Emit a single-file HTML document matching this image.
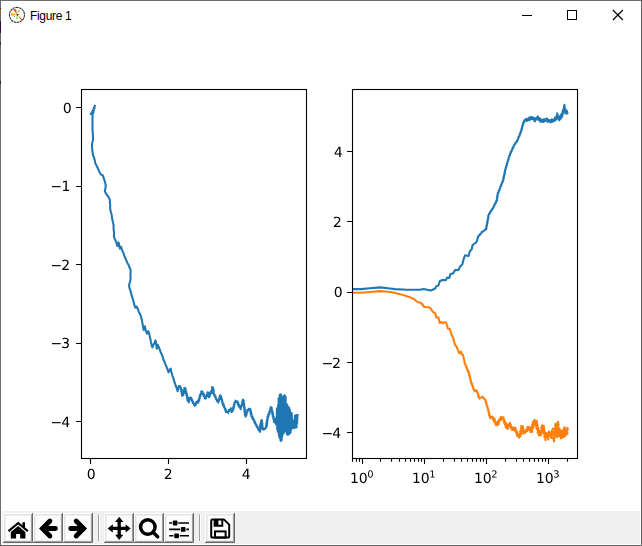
<!DOCTYPE html>
<html><head><meta charset="utf-8"><title>Figure 1</title>
<style>
html,body{margin:0;padding:0;background:#fff;overflow:hidden}
body{width:642px;height:546px;position:relative;font-family:"Liberation Sans",sans-serif}
svg{position:absolute;left:0;top:0;display:block}
.title{position:absolute;left:30px;top:8px;font-size:12px;line-height:16px;color:#000;font-family:"Liberation Sans",sans-serif;letter-spacing:-0.32px}
</style></head><body>
<svg width="642" height="546" viewBox="0 0 642 546">
<rect x="0" y="0" width="642" height="546" fill="#fff"/>
<rect x="1" y="511" width="640" height="34" fill="#f0f0f0"/>
<rect x="1" y="31" width="640" height="480" fill="#fff"/>
<clipPath id="c1"><rect x="81.5" y="89.5" width="225" height="369"/></clipPath>
<clipPath id="c2"><rect x="352.5" y="89.5" width="225" height="369"/></clipPath>
<polyline clip-path="url(#c1)" points="94.9,105.8 93.5,109.0 94.6,108.2 92.2,111.6 93.8,110.8 90.6,113.9 93.4,112.6 92.5,114.6 92.5,129.8 92.5,129.8 92.7,132.4 92.9,135.0 93.0,137.5 93.0,139.8 92.3,142.5 92.0,145.3 92.2,150.0 93.0,154.8 94.0,157.8 94.8,160.4 95.4,163.5 96.5,165.6 97.7,168.0 98.6,170.1 99.8,172.7 101.1,174.7 102.6,175.0 103.8,178.4 104.6,180.7 105.3,183.2 105.8,185.9 105.4,188.2 104.8,190.9 105.8,193.3 107.2,195.1 108.8,197.6 109.8,199.6 109.9,200.0 109.9,202.7 110.2,205.1 110.1,207.7 110.4,210.0 111.0,212.7 111.7,214.9 111.9,217.3 112.4,219.7 113.0,222.5 113.6,224.9 113.5,227.5 113.7,229.8 114.1,232.4 113.9,234.9 114.1,237.4 115.3,240.1 116.5,243.0 117.4,246.1 118.6,242.4 119.4,245.7 119.9,248.6 121.1,246.9 121.9,249.6 123.0,252.1 123.9,254.4 124.9,257.4 126.1,259.8 127.1,262.4 128.6,265.0 129.4,267.2 130.6,269.8 130.6,272.8 130.4,275.7 130.6,278.5 130.2,281.2 129.4,283.7 129.1,286.0 129.7,288.7 130.8,291.8 131.4,294.6 132.3,297.2 133.1,299.7 133.7,302.3 134.3,304.9 135.3,307.7 136.8,306.7 138.0,309.5 138.8,311.7 140.3,314.5 141.1,317.1 141.9,320.0 142.3,322.4 142.8,325.2 143.2,327.5 143.7,330.0 144.9,326.2 145.3,328.9 146.0,331.2 146.9,333.7 148.4,331.2 149.2,333.7 149.8,336.8 150.5,339.4 150.9,342.0 151.6,344.9 152.4,347.4 153.3,345.0 154.6,342.9 155.4,340.4 156.1,343.1 156.4,346.0 156.9,348.7 157.9,344.9 158.9,347.3 159.8,349.7 160.8,352.6 162.0,354.9 162.8,357.3 163.5,359.7 164.9,362.5 165.6,365.0 166.8,367.4 167.7,369.9 168.6,372.3 170.6,368.6 171.2,371.2 171.8,373.5 172.5,376.0 173.5,378.6 174.1,381.2 175.0,383.5 177.7,391.2 177.1,389.9 178.3,389.4 177.9,388.2 178.8,387.6 178.5,386.4 179.0,385.9 180.2,386.3 179.9,387.6 181.1,388.0 180.9,389.2 181.9,390.0 181.1,391.1 182.1,391.9 181.5,393.1 182.6,393.9 182.0,395.0 182.1,395.8 183.2,395.1 182.7,394.0 183.8,393.3 183.2,392.2 184.4,391.5 183.8,390.4 184.7,389.7 184.3,388.6 184.5,387.9 185.6,388.6 185.2,389.7 185.9,390.4 185.4,391.5 186.4,392.2 185.8,393.3 186.9,394.0 186.4,395.1 187.3,395.8 186.8,396.9 187.9,397.6 187.0,398.7 188.2,399.4 187.5,400.5 188.6,401.2 188.8,402.4 188.3,401.1 189.4,400.6 189.2,399.6 190.3,399.0 189.9,397.9 190.2,397.4 191.3,398.0 191.0,399.3 192.2,399.8 192.0,401.0 193.1,401.7 192.8,403.0 194.0,403.6 194.0,404.9 194.6,405.6 195.6,405.0 195.2,403.8 196.5,403.4 196.2,402.2 196.4,401.8 197.8,402.7 198.6,402.0 198.1,400.8 199.3,400.2 198.8,399.1 199.8,398.4 199.4,397.2 200.3,396.5 199.8,395.4 200.9,394.7 200.6,393.6 201.7,393.0 201.2,391.8 201.3,391.2 202.5,391.7 202.1,393.0 203.5,393.4 203.0,394.7 204.3,395.1 203.9,396.4 205.1,396.9 204.6,398.1 205.1,398.7 206.2,398.0 205.8,396.8 206.9,396.1 206.7,394.9 207.7,394.3 207.3,393.0 207.6,392.3 208.7,393.1 208.2,394.3 209.0,395.1 208.8,396.3 208.9,397.1 209.8,396.3 209.4,395.3 210.3,394.5 209.6,393.4 210.6,392.6 210.8,391.5 210.4,392.8 210.9,393.5 211.8,392.7 211.3,391.6 212.2,390.8 211.8,389.8 212.6,389.0 212.1,387.9 212.1,387.1 213.1,387.9 212.4,388.9 213.6,389.7 212.7,390.7 213.7,391.5 213.0,392.6 213.9,393.3 213.7,394.4 214.8,394.9 214.4,396.1 215.7,396.5 215.3,397.7 216.2,398.3 216.1,399.4 217.0,399.9 217.0,401.0 218.0,401.5 218.3,402.6 217.9,401.4 219.0,400.8 218.4,399.6 219.7,399.1 219.3,397.9 220.2,397.2 219.7,396.0 220.1,395.4 221.1,396.2 220.5,397.4 221.7,398.1 221.1,399.3 222.2,400.1 221.8,401.3 222.6,402.1 222.4,403.2 223.4,403.7 222.9,404.9 224.0,405.5 223.6,406.6 224.6,407.2 224.5,408.2 225.5,408.8 225.1,410.0 226.2,410.5 225.8,411.9 227.3,411.8 228.1,412.9 228.0,411.7 229.1,411.2 229.0,409.9 230.4,409.5 230.9,408.2 230.4,409.5 231.6,410.1 231.3,411.4 231.6,412.0 232.7,411.2 232.1,410.1 233.4,409.4 232.8,408.3 233.9,407.6 233.4,406.4 234.3,405.7 233.9,404.5 234.8,403.8 234.4,402.6 235.6,402.0 235.5,400.6 236.2,401.7 237.6,401.4 237.2,402.5 238.3,403.0 237.8,404.2 239.0,404.7 238.5,405.9 239.6,406.4 239.5,407.4 240.5,408.0 240.8,409.1 240.3,407.9 241.2,407.2 241.0,406.1 241.9,405.4 241.6,404.3 242.7,403.6 242.0,402.3 243.2,401.7 242.6,400.5 243.0,399.7 243.7,400.6 243.1,401.6 243.9,402.5 243.4,403.5 244.3,404.3 243.6,405.3 244.4,406.2 244.0,407.2 244.8,408.0 244.2,409.1 245.0,409.9 244.4,410.9 245.1,411.8 244.6,412.8 245.5,413.6 244.8,414.7 245.6,415.5 245.7,416.6 245.3,415.5 246.5,415.0 246.0,413.8 246.9,413.2 246.6,412.1 247.6,411.4 247.2,410.3 248.1,410.0 248.8,408.7 249.7,408.7 250.5,409.4 250.0,410.5 250.9,411.3 250.4,412.3 251.5,413.1 250.7,414.2 251.7,414.8 251.3,416.1 252.5,416.6 252.1,417.9 253.3,418.4 253.0,419.6 254.3,420.1 254.0,421.3 255.1,421.9 254.8,423.2 255.8,423.7 255.8,424.9 256.9,425.4 256.6,426.6 257.8,427.1 257.6,428.3 258.6,428.9 258.5,430.1 259.5,430.6 260.1,431.8 259.4,430.7 260.3,430.0 259.5,428.9 260.5,428.2 259.9,427.1 260.9,426.4 260.1,425.3 261.1,424.5 260.5,423.5 261.3,422.7 260.9,421.8 261.9,421.0 261.8,420.0 261.1,421.0 262.2,421.9 261.4,423.0 262.5,423.8 261.7,424.9 262.6,425.8 262.0,426.8 262.8,427.7 262.2,428.8 262.6,429.3 263.8,429.6 264.2,428.5 265.4,428.6 265.7,427.7 266.6,427.0 265.9,425.9 267.0,425.2 266.2,424.1 267.2,423.4 266.5,422.3 267.4,421.5 266.8,420.5 267.7,419.7 267.2,418.7 268.0,417.9 267.4,416.8 268.4,416.2 268.0,415.0 269.3,414.4 268.7,413.2 269.9,412.6 269.4,411.4 270.3,410.7 270.1,409.6 270.9,408.8 270.7,407.7 270.7,407.0 271.7,407.8 271.2,408.8 272.1,409.6 271.7,410.6 272.5,411.4 272.0,412.4 273.0,413.1 272.3,414.2 273.3,415.0 272.7,416.0 273.7,416.8 273.1,417.9 274.0,418.6 273.6,419.6 274.5,420.4 273.9,421.5 274.4,422.3 275.0,419.4 275.3,422.2 275.7,419.6 276.0,424.1 276.3,417.9 276.7,424.9 276.9,408.5 277.2,429.2 277.6,408.9 277.7,431.6 278.0,405.5 278.4,431.3 278.6,398.3 278.9,435.3 279.3,398.0 279.4,437.8 279.7,395.0 280.1,436.7 280.2,394.3 280.5,440.4 280.9,394.5 281.0,440.9 281.3,395.1 281.7,440.1 281.8,397.0 282.1,437.0 282.5,397.8 282.7,434.3 283.0,397.1 283.4,433.7 284.0,395.8 284.3,431.6 284.7,395.3 285.3,431.4 285.6,396.7 286.0,431.2 286.5,405.7 286.8,433.9 287.2,404.6 287.5,434.7 287.8,406.4 288.2,434.3 288.5,407.9 288.8,434.5 289.2,407.8 289.7,433.2 290.0,410.0 290.4,432.9 291.0,412.9 291.3,429.6 291.7,413.0 292.3,427.3 292.6,421.0 293.0,427.2 293.2,421.0 293.5,428.3 293.9,421.3 294.2,427.1 294.5,419.4 294.9,427.6 294.9,415.7 295.2,427.7 295.6,415.8 295.8,426.6 296.1,415.0 296.5,427.4 296.8,416.3 297.1,423.5 297.5,415.1" fill="none" stroke="#1f77b4" stroke-width="2.08" stroke-linejoin="round" stroke-linecap="square"/>
<polyline clip-path="url(#c2)" points="352.6,289.1 361.1,289.1 370.0,288.3 379.8,287.4 388.0,288.3 394.8,289.1 407.2,289.8 419.7,289.8 423.7,289.0 430.6,290.5 435.0,288.8 436.2,286.4 438.4,285.5 439.9,280.9 442.4,280.1 445.9,280.1 447.2,277.6 449.3,278.0 450.5,273.9 453.0,273.4 455.5,269.7 458.4,270.2 459.9,266.8 462.4,264.3 463.4,259.9 465.1,255.2 468.6,256.0 469.8,251.2 471.7,249.3 472.6,245.0 476.1,242.5 477.3,240.0 478.0,236.7 478.2,236.9 478.6,235.7 479.8,235.1 480.1,233.9 481.3,233.4 481.7,232.1 482.8,231.8 483.4,230.8 484.5,230.6 485.1,229.6 486.3,229.2 486.1,228.1 486.7,227.2 486.3,226.1 487.0,225.1 486.8,224.1 487.5,223.1 487.0,222.0 487.8,221.1 487.5,220.0 488.3,219.1 487.9,217.9 488.6,217.0 488.2,215.9 488.8,215.0 489.0,213.9 489.9,213.3 490.0,212.1 491.0,211.6 491.1,210.4 492.2,209.9 492.2,208.7 493.3,208.1 493.3,207.0 494.1,206.2 494.2,205.1 495.1,204.4 495.1,203.3 496.0,202.6 496.0,201.4 497.0,200.6 496.7,199.5 497.4,198.5 496.9,197.3 497.7,196.4 497.3,195.2 498.1,194.2 497.7,193.0 498.7,192.2 498.6,190.9 499.6,190.1 499.5,188.9 500.3,188.0 500.2,186.8 501.1,185.9 501.1,184.7 501.9,183.8 501.9,182.6 502.9,181.8 502.7,180.5 503.6,179.6 503.2,178.5 504.0,177.6 503.6,176.4 504.4,175.5 504.1,174.4 505.0,173.5 504.5,172.3 505.3,171.4 505.0,170.2 505.7,169.3 505.5,168.2 506.3,167.3 506.0,166.1 507.0,165.2 506.7,164.0 507.5,163.1 507.3,161.9 508.1,161.1 508.0,159.9 508.7,159.0 508.7,157.8 509.3,156.9 509.2,155.7 510.0,154.9 510.0,153.8 510.9,153.0 510.7,151.9 511.7,151.2 511.7,150.0 512.6,149.3 512.4,148.1 513.5,147.5 513.3,146.3 514.2,145.6 514.4,144.4 515.4,143.8 515.6,142.5 516.8,142.0 516.9,140.7 517.9,140.0 517.9,138.9 518.6,138.1 518.5,137.0 519.4,136.3 519.3,135.2 520.1,134.4 520.0,133.3 520.9,132.5 520.7,131.4 521.6,130.5 521.3,129.3 522.1,128.4 521.9,127.2 522.7,126.3 522.5,125.2 523.4,124.2 523.0,122.9 524.2,122.2 524.1,120.7 525.0,119.8 524.8,120.6 526.4,118.7 526.8,121.1 527.0,119.9 529.1,120.3 528.3,118.7 530.6,119.4 529.3,117.4 529.8,118.2 531.7,116.8 531.5,119.0 533.3,117.6 532.8,119.2 535.2,119.6 534.8,121.4 534.1,119.8 535.8,119.9 535.1,118.2 537.2,118.5 537.9,116.3 536.8,118.5 538.6,117.9 538.0,119.6 540.0,118.4 539.5,120.7 541.3,119.7 540.7,121.9 541.4,120.6 543.2,122.0 542.8,119.8 544.6,121.3 544.2,119.0 546.2,120.8 546.8,118.3 546.5,120.4 548.1,119.7 547.7,121.9 549.8,120.4 550.4,122.5 550.2,120.1 552.2,121.9 551.9,119.4 554.0,121.2 554.2,119.6 555.0,117.6 555.6,120.2 556.4,116.2 556.8,119.0 557.2,113.3 557.8,118.4 558.5,115.8 559.3,120.3 559.9,116.6 560.7,118.8 561.2,114.5 561.7,113.8 562.2,116.8 562.6,112.0 563.0,110.0 563.5,113.4 563.9,108.0 564.4,104.9 564.8,109.2 565.2,111.8 565.6,109.4 566.2,113.8 566.8,110.8 567.4,113.3" fill="none" stroke="#1f77b4" stroke-width="2.08" stroke-linejoin="round" stroke-linecap="square"/>
<polyline clip-path="url(#c2)" points="352.6,292.8 361.1,292.8 370.0,292.0 379.8,291.1 386.0,291.5 392.3,292.3 402.2,294.8 410.0,297.2 413.7,298.9 417.5,302.0 421.2,303.0 424.3,307.0 428.7,307.2 430.6,308.4 433.1,312.2 434.9,312.6 436.4,317.5 438.4,317.5 439.7,322.9 441.2,321.9 442.6,323.4 444.3,322.2 446.1,322.5 448.0,328.8 449.9,329.1 451.1,333.7 453.0,337.5 455.1,345.0 456.7,346.8 459.2,353.1 461.1,351.6 461.7,354.3 463.0,354.9 464.9,363.6 464.7,363.7 465.6,364.5 465.6,365.6 466.5,366.4 466.4,367.6 467.3,368.4 467.1,369.6 468.0,370.4 468.0,371.5 469.0,372.3 468.8,373.4 469.4,374.3 469.1,375.4 470.0,376.3 469.6,377.4 470.4,378.3 470.2,379.4 470.9,380.3 470.7,381.4 471.5,382.2 471.3,383.4 472.2,384.1 472.0,385.3 472.9,386.1 472.8,387.3 473.6,388.1 473.4,389.3 474.3,390.0 474.5,391.3 475.4,390.5 476.4,390.4 477.2,391.3 477.1,392.4 478.0,393.3 477.8,394.5 478.7,395.3 478.4,396.6 479.2,397.4 479.5,398.7 480.3,397.7 481.5,397.5 482.6,396.6 482.9,397.8 484.0,398.3 484.4,399.4 485.6,399.9 485.4,401.1 486.3,401.9 486.0,403.0 486.7,403.9 486.6,405.0 487.4,405.8 487.2,406.9 487.8,407.8 487.7,408.9 488.6,409.7 488.2,411.0 488.9,411.9 488.6,413.2 489.4,414.2 489.1,415.4 489.9,416.4 489.9,417.5 490.3,418.2 490.5,416.4 491.1,417.0 492.8,416.9 492.4,418.7 494.7,418.5 493.4,420.1 495.0,420.4 494.1,421.8 495.7,422.0 495.2,423.5 497.1,423.2 495.9,425.1 496.8,425.0 498.5,424.7 497.1,423.3 498.8,422.9 497.8,421.6 499.3,421.6 498.9,419.8 500.8,420.1 499.9,418.4 501.6,418.5 500.9,417.0 501.3,417.3 503.6,417.3 502.4,419.0 504.0,419.4 503.6,420.7 505.0,421.2 504.0,422.7 505.9,423.0 504.9,424.2 506.7,424.4 505.4,425.8 507.1,426.1 505.9,427.4 507.3,427.8 507.9,429.0 506.5,427.6 508.2,427.3 507.4,426.1 509.0,425.7 508.1,424.5 509.6,424.2 510.0,422.7 508.9,424.4 510.8,424.6 509.7,426.3 511.5,426.5 510.7,427.9 512.5,428.1 511.5,429.6 512.2,429.9 514.0,429.6 513.2,428.0 513.6,427.6 515.4,427.7 514.0,429.4 516.0,429.5 515.1,431.0 516.8,431.3 515.9,432.5 517.6,432.8 516.6,434.1 517.9,434.6 517.0,435.8 518.5,436.2 518.9,437.8 518.4,435.8 520.4,436.4 519.8,434.9 521.3,434.3 520.1,433.2 521.4,432.6 520.2,431.5 521.9,431.0 520.7,429.9 522.0,429.3 520.9,428.3 522.6,427.7 521.3,426.6 521.1,426.1 523.1,426.6 521.8,427.8 523.3,428.4 521.7,429.6 523.6,430.1 522.2,431.3 523.7,431.9 523.6,433.6 523.9,431.8 525.4,432.6 525.4,431.1 527.1,431.2 526.2,429.7 527.9,429.8 527.2,428.4 528.7,428.4 527.6,426.8 528.2,426.9 529.7,427.2 529.1,428.4 530.5,428.7 529.6,430.0 530.9,430.4 530.2,431.6 530.3,432.0 532.3,431.7 530.8,430.3 532.5,429.9 531.4,428.6 533.1,428.2 531.9,427.0 533.7,426.5 532.0,425.2 534.1,424.8 532.7,423.6 534.4,423.1 532.8,421.8 534.5,421.3 534.4,419.7 534.7,421.4 536.8,420.8 535.2,422.0 537.0,422.6 535.4,423.7 537.3,424.3 535.8,425.4 537.8,425.9 536.3,427.1 538.1,427.7 536.5,429.0 538.5,429.1 537.5,430.4 539.2,430.7 537.7,432.2 539.8,432.2 538.2,433.8 540.1,433.9 539.0,435.2 539.6,435.5 541.1,435.1 539.6,433.8 541.4,433.4 540.4,432.2 541.8,431.8 540.9,430.7 542.3,430.1 541.4,429.1 543.1,428.7 541.3,427.4 543.2,427.0 541.8,425.8 542.0,425.3 543.8,425.9 542.5,427.0 544.2,427.6 542.7,428.7 544.2,429.3 543.1,430.4 544.7,430.9 543.2,432.1 544.7,432.7 544.3,433.6 543.8,433.7 545.2,435.1 544.2,436.9 545.4,438.3 545.6,440.1 545.2,438.1 546.4,436.5 545.7,434.5 546.1,433.0 547.6,434.4 546.7,436.2 548.1,437.6 548.2,439.4 547.6,437.3 548.9,435.5 548.1,433.3 548.8,431.6 550.2,433.0 549.5,434.8 550.9,436.2 551.1,438.0 550.5,436.0 552.0,434.4 551.3,432.3 552.4,430.6 553.1,428.6 552.0,430.6 553.1,432.3 552.2,434.2 553.9,435.9 552.9,437.8 554.0,439.5 554.1,441.4 553.5,439.5 554.7,437.8 554.0,435.8 555.2,434.1 554.4,432.2 555.4,430.6 554.6,428.8 556.0,427.2 555.2,425.4 555.3,423.8 556.5,425.4 555.6,427.2 556.5,428.8 555.6,430.5 557.1,432.1 555.7,433.9 557.1,435.5 557.1,437.2 556.2,435.4 557.5,433.8 556.4,432.0 557.5,430.3 556.8,428.6 557.8,426.9 556.9,425.1 558.2,423.5 558.2,421.7 557.5,423.4 558.7,424.9 557.6,426.6 558.8,428.2 558.0,429.9 559.1,431.5 558.2,433.2 559.5,434.7 559.4,436.5 558.8,434.5 560.1,433.0 559.4,431.0 560.0,429.4 561.1,431.2 560.4,433.1 561.7,434.8 560.9,436.8 561.0,438.5 562.2,437.0 561.6,435.1 562.8,433.6 561.8,431.7 563.3,430.3 564.6,427.2 563.6,429.0 564.9,430.5 563.8,432.3 564.8,433.9 563.8,435.6 563.9,437.1 565.2,435.5 564.6,433.7 565.9,432.2 565.0,430.3 565.3,428.8 566.4,430.7 566.0,433.0 566.1,434.9 567.6,433.3 566.3,431.4 567.8,429.8 567.4,428.0" fill="none" stroke="#ff7f0e" stroke-width="2.08" stroke-linejoin="round" stroke-linecap="square"/>
<rect x="81.5" y="89.5" width="225" height="369" fill="none" stroke="#000" stroke-width="1.1"/>
<rect x="352.5" y="89.5" width="225" height="369" fill="none" stroke="#000" stroke-width="1.1"/>
<path d="M76.1 107.5L81.0 107.5M76.1 186.5L81.0 186.5M76.1 264.5L81.0 264.5M76.1 343.5L81.0 343.5M76.1 421.5L81.0 421.5M90.5 459.0L90.5 463.9M168.5 459.0L168.5 463.9M246.5 459.0L246.5 463.9M347.1 151.5L352.0 151.5M347.1 221.5L352.0 221.5M347.1 292.5L352.0 292.5M347.1 362.5L352.0 362.5M347.1 432.5L352.0 432.5M352.5 459.0L352.5 461.8M356.5 459.0L356.5 461.8M359.5 459.0L359.5 461.8M362.5 459.0L362.5 463.9M380.5 459.0L380.5 461.8M391.5 459.0L391.5 461.8M399.5 459.0L399.5 461.8M405.5 459.0L405.5 461.8M410.5 459.0L410.5 461.8M414.5 459.0L414.5 461.8M418.5 459.0L418.5 461.8M421.5 459.0L421.5 461.8M424.5 459.0L424.5 463.9M443.5 459.0L443.5 461.8M454.5 459.0L454.5 461.8M461.5 459.0L461.5 461.8M467.5 459.0L467.5 461.8M472.5 459.0L472.5 461.8M476.5 459.0L476.5 461.8M480.5 459.0L480.5 461.8M483.5 459.0L483.5 461.8M486.5 459.0L486.5 463.9M505.5 459.0L505.5 461.8M516.5 459.0L516.5 461.8M523.5 459.0L523.5 461.8M529.5 459.0L529.5 461.8M534.5 459.0L534.5 461.8M538.5 459.0L538.5 461.8M542.5 459.0L542.5 461.8M545.5 459.0L545.5 461.8M548.5 459.0L548.5 463.9M567.5 459.0L567.5 461.8" stroke="#000" stroke-width="1.1" fill="none"/>
<defs><path id="g0" d="M651 -1360Q495 -1360 416 -1206Q338 -1053 338 -745Q338 -438 416 -284Q495 -131 651 -131Q808 -131 886 -284Q965 -438 965 -745Q965 -1053 886 -1206Q808 -1360 651 -1360ZM651 -1520Q902 -1520 1034 -1322Q1167 -1123 1167 -745Q1167 -368 1034 -170Q902 29 651 29Q400 29 268 -170Q135 -368 135 -745Q135 -1123 268 -1322Q400 -1520 651 -1520Z"/><path id="g1" d="M254 -170H584V-1309L225 -1237V-1421L582 -1493H784V-170H1114V0H254Z"/><path id="g2" d="M393 -170H1098V0H150V-170Q265 -289 464 -490Q662 -690 713 -748Q810 -857 848 -932Q887 -1008 887 -1081Q887 -1200 804 -1275Q720 -1350 586 -1350Q491 -1350 386 -1317Q280 -1284 160 -1217V-1421Q282 -1470 388 -1495Q494 -1520 582 -1520Q814 -1520 952 -1404Q1090 -1288 1090 -1094Q1090 -1002 1056 -920Q1021 -837 930 -725Q905 -696 771 -558Q637 -419 393 -170Z"/><path id="g3" d="M831 -805Q976 -774 1058 -676Q1139 -578 1139 -434Q1139 -213 987 -92Q835 29 555 29Q461 29 362 10Q262 -8 156 -45V-240Q240 -191 340 -166Q440 -141 549 -141Q739 -141 838 -216Q938 -291 938 -434Q938 -566 846 -640Q753 -715 588 -715H414V-881H596Q745 -881 824 -940Q903 -1000 903 -1112Q903 -1227 822 -1288Q740 -1350 588 -1350Q505 -1350 410 -1332Q315 -1314 201 -1276V-1456Q316 -1488 416 -1504Q517 -1520 606 -1520Q836 -1520 970 -1416Q1104 -1311 1104 -1133Q1104 -1009 1033 -924Q962 -838 831 -805Z"/><path id="g4" d="M774 -1317 264 -520H774ZM721 -1493H975V-520H1188V-352H975V0H774V-352H100V-547Z"/><path id="gm" d="M217 -727H1499V-557H217Z"/></defs>
<g fill="#000"><use href="#g0" transform="translate(62.86 113.00) scale(0.006782)"/><use href="#gm" transform="translate(50.50 191.00) scale(0.006782)"/><use href="#g1" transform="translate(61.50 191.00) scale(0.006782)"/><use href="#gm" transform="translate(50.50 270.00) scale(0.006782)"/><use href="#g2" transform="translate(61.30 270.00) scale(0.006782)"/><use href="#gm" transform="translate(50.50 348.00) scale(0.006782)"/><use href="#g3" transform="translate(61.20 348.00) scale(0.006782)"/><use href="#gm" transform="translate(50.50 427.00) scale(0.006782)"/><use href="#g4" transform="translate(61.40 427.00) scale(0.006782)"/><use href="#g0" transform="translate(86.80 479.00) scale(0.006782)"/><use href="#g2" transform="translate(163.80 479.00) scale(0.006782)"/><use href="#g4" transform="translate(241.80 479.00) scale(0.006782)"/><use href="#g4" transform="translate(333.90 157.00) scale(0.006782)"/><use href="#g2" transform="translate(332.90 227.00) scale(0.006782)"/><use href="#g0" transform="translate(333.80 297.00) scale(0.006782)"/><use href="#gm" transform="translate(321.60 368.00) scale(0.006782)"/><use href="#g2" transform="translate(332.10 368.00) scale(0.006782)"/><use href="#gm" transform="translate(321.60 438.00) scale(0.006782)"/><use href="#g4" transform="translate(332.30 438.00) scale(0.006782)"/><use href="#g1" transform="translate(349.97 483.00) scale(0.006782)"/><use href="#g0" transform="translate(358.81 483.00) scale(0.006782)"/><use href="#g0" transform="translate(367.34 477.50) scale(0.004747)"/><use href="#g1" transform="translate(411.97 483.00) scale(0.006782)"/><use href="#g0" transform="translate(420.81 483.00) scale(0.006782)"/><use href="#g1" transform="translate(429.34 477.50) scale(0.004747)"/><use href="#g1" transform="translate(473.97 483.00) scale(0.006782)"/><use href="#g0" transform="translate(482.81 483.00) scale(0.006782)"/><use href="#g2" transform="translate(491.34 477.50) scale(0.004747)"/><use href="#g1" transform="translate(535.97 483.00) scale(0.006782)"/><use href="#g0" transform="translate(544.81 483.00) scale(0.006782)"/><use href="#g3" transform="translate(553.34 477.50) scale(0.004747)"/></g>
<path d="M98.5 514.5V541" stroke="#a0a0a0"/><path d="M99.5 514.5V541" stroke="#fff"/><path d="M199.5 514.5V541" stroke="#a0a0a0"/><path d="M200.5 514.5V541" stroke="#fff"/>
<g transform="translate(3 513)"><rect x="0" y="0" width="30" height="30" fill="#f0f0f0"/><rect x="3" y="3" width="24" height="24" fill="#fdfdfd"/><path d="M1.5 28.5V1.5H28.5" stroke="#e3e3e3" fill="none"/><path d="M0.5 29.5V0.5H29.5" stroke="#fff" fill="none"/><path d="M28.5 1V28.5H1" stroke="#a0a0a0" fill="none"/><path d="M29.5 0V29.5H0" stroke="#696969" fill="none"/></g><g transform="translate(33 513)"><rect x="0" y="0" width="30" height="30" fill="#f0f0f0"/><rect x="3" y="3" width="24" height="24" fill="#fdfdfd"/><path d="M1.5 28.5V1.5H28.5" stroke="#e3e3e3" fill="none"/><path d="M0.5 29.5V0.5H29.5" stroke="#fff" fill="none"/><path d="M28.5 1V28.5H1" stroke="#a0a0a0" fill="none"/><path d="M29.5 0V29.5H0" stroke="#696969" fill="none"/></g><g transform="translate(63 513)"><rect x="0" y="0" width="30" height="30" fill="#f0f0f0"/><rect x="3" y="3" width="24" height="24" fill="#fdfdfd"/><path d="M1.5 28.5V1.5H28.5" stroke="#e3e3e3" fill="none"/><path d="M0.5 29.5V0.5H29.5" stroke="#fff" fill="none"/><path d="M28.5 1V28.5H1" stroke="#a0a0a0" fill="none"/><path d="M29.5 0V29.5H0" stroke="#696969" fill="none"/></g><g transform="translate(104 513)"><rect x="0" y="0" width="30" height="30" fill="#f0f0f0"/><rect x="3" y="3" width="24" height="24" fill="#fdfdfd"/><path d="M1.5 28.5V1.5H28.5" stroke="#e3e3e3" fill="none"/><path d="M0.5 29.5V0.5H29.5" stroke="#fff" fill="none"/><path d="M28.5 1V28.5H1" stroke="#a0a0a0" fill="none"/><path d="M29.5 0V29.5H0" stroke="#696969" fill="none"/></g><g transform="translate(134 513)"><rect x="0" y="0" width="30" height="30" fill="#f0f0f0"/><rect x="3" y="3" width="24" height="24" fill="#fdfdfd"/><path d="M1.5 28.5V1.5H28.5" stroke="#e3e3e3" fill="none"/><path d="M0.5 29.5V0.5H29.5" stroke="#fff" fill="none"/><path d="M28.5 1V28.5H1" stroke="#a0a0a0" fill="none"/><path d="M29.5 0V29.5H0" stroke="#696969" fill="none"/></g><g transform="translate(164 513)"><rect x="0" y="0" width="30" height="30" fill="#f0f0f0"/><rect x="3" y="3" width="24" height="24" fill="#fdfdfd"/><path d="M1.5 28.5V1.5H28.5" stroke="#e3e3e3" fill="none"/><path d="M0.5 29.5V0.5H29.5" stroke="#fff" fill="none"/><path d="M28.5 1V28.5H1" stroke="#a0a0a0" fill="none"/><path d="M29.5 0V29.5H0" stroke="#696969" fill="none"/></g><g transform="translate(205 513)"><rect x="0" y="0" width="30" height="30" fill="#f0f0f0"/><rect x="3" y="3" width="24" height="24" fill="#fdfdfd"/><path d="M1.5 28.5V1.5H28.5" stroke="#e3e3e3" fill="none"/><path d="M0.5 29.5V0.5H29.5" stroke="#fff" fill="none"/><path d="M28.5 1V28.5H1" stroke="#a0a0a0" fill="none"/><path d="M29.5 0V29.5H0" stroke="#696969" fill="none"/></g><path d="M18.2 521.7L28.5 530.3L27.2 531.9L18.2 524.4L9.2 531.9L7.8 530.3Z" fill="#000"/><path d="M22.4 522.3H25V528L22.4 525.8Z" fill="#000"/><path d="M18.2 526.0L25.4 531.9V538.4H20.2V533.9H16.1V538.4H10.8V531.9Z" fill="#000"/><path d="M49.9 521.1L42.5 528.5L49.9 535.9M42.7 528.5H55.4" fill="none" stroke="#000" stroke-width="4.9" stroke-linecap="round" stroke-linejoin="miter"/><path d="M76.2 521.1L83.6 528.5L76.2 535.9M83.4 528.5H70.7" fill="none" stroke="#000" stroke-width="4.9" stroke-linecap="round" stroke-linejoin="miter"/><path d="M119.2 516.8L123.3 522H120.85V526.75H125.6V524.3L130.7 528.4L125.6 532.5V530.05H120.85V534.8H123.3L119.2 540.1L115.1 534.8H117.55V530.05H112.8V532.5L107.6 528.4L112.8 524.3V526.75H117.55V522H115.1Z" fill="#000"/><circle cx="147.8" cy="527.0" r="7.25" fill="none" stroke="#000" stroke-width="3.5"/><path d="M153.4 532.6L157.7 536.8" stroke="#000" stroke-width="3.5" stroke-linecap="round"/><path d="M169.2 523H189M169.2 529.4H189M169.2 535.8H189" stroke="#000" stroke-width="1.6"/><rect x="172" y="519.8" width="6.3" height="6.4" fill="#fdfdfd"/><rect x="180" y="526.2" width="6.3" height="6.4" fill="#fdfdfd"/><rect x="173.5" y="532.6" width="6.3" height="6.4" fill="#fdfdfd"/><rect x="172.8" y="520.6" width="4.7" height="4.8" rx="0.9" fill="#000"/><rect x="180.8" y="527" width="4.7" height="4.8" rx="0.9" fill="#000"/><rect x="174.3" y="533.4" width="4.7" height="4.8" rx="0.9" fill="#000"/><path d="M212.4 519.6H224.1L229.2 524.6V536.4Q229.2 537.6 228 537.6H212.4Q211.2 537.6 211.2 536.4V520.8Q211.2 519.6 212.4 519.6Z" fill="none" stroke="#000" stroke-width="2.0" stroke-linejoin="round"/><path d="M214.6 519.6V525.7H222.3V519.6" fill="none" stroke="#000" stroke-width="1.9"/><rect x="214.5" y="519.6" width="3.9" height="6.2" fill="#000"/><rect x="215.0" y="531.4" width="10.6" height="6.2" fill="none" stroke="#000" stroke-width="2"/>
<!-- window frame -->
<rect x="1" y="511" width="1" height="34" fill="#fff"/>
<rect x="640" y="31" width="1" height="514" fill="#fff"/>
<rect x="1" y="544" width="640" height="1" fill="#fff"/>
<rect x="0" y="0" width="642" height="1" fill="#6e6e6e"/>
<rect x="0" y="0" width="1" height="546" fill="#6a6a6a"/>
<rect x="641" y="0" width="1" height="546" fill="#636363"/>
<rect x="0" y="8" width="1" height="1" fill="#1c2c50"/><rect x="0" y="9" width="1" height="6" fill="#8a6c40"/>
<rect x="0" y="21" width="1" height="12" fill="#2a1040"/><rect x="0" y="42" width="1" height="3" fill="#1c3060"/>
<rect x="0" y="81" width="1" height="3" fill="#282828"/>
<rect x="0" y="545" width="642" height="1" fill="#636363"/>
<!-- app icon -->
<circle cx="16.95" cy="14.9" r="7.5" fill="#fff" stroke="#303030" stroke-width="1.05" stroke-dasharray="2.6 0.5"/>
<g transform="translate(17.3 14.7)">
<path d="M0 0L-4.4 -5.2L-1.5 -6z" fill="#f4640c"/>
<path d="M0 0L5 4.5L3.7 5.5z" fill="#e8640c"/>
<path d="M0 0L-6.3 -2.1L-6.3 1.2z" fill="#f7bc00"/>
<path d="M0.3 -0.6L0.9 -4.6L3 -4.3z" fill="#a8d63a"/>
<path d="M-0.3 0.6L-1.5 4.4L0.7 4.6z" fill="#78dc60"/>
<circle cx="-3" cy="1.7" r="0.55" fill="#3aa39a"/>
<circle cx="1.4" cy="-0.2" r="0.6" fill="#2f4f9a"/>
<circle cx="0" cy="0.1" r="0.9" fill="#3a3a2a"/>
</g>
<!-- window controls -->
<path d="M522 15.5H532" stroke="#000" stroke-width="1"/>
<rect x="567.5" y="10.5" width="9" height="9" fill="none" stroke="#000" stroke-width="1"/>
<path d="M612.9 10.0L622.9 20.0M622.9 10.0L612.9 20.0" stroke="#000" stroke-width="1.15"/>
</svg>
<div class="title">Figure 1</div>
</body></html>
